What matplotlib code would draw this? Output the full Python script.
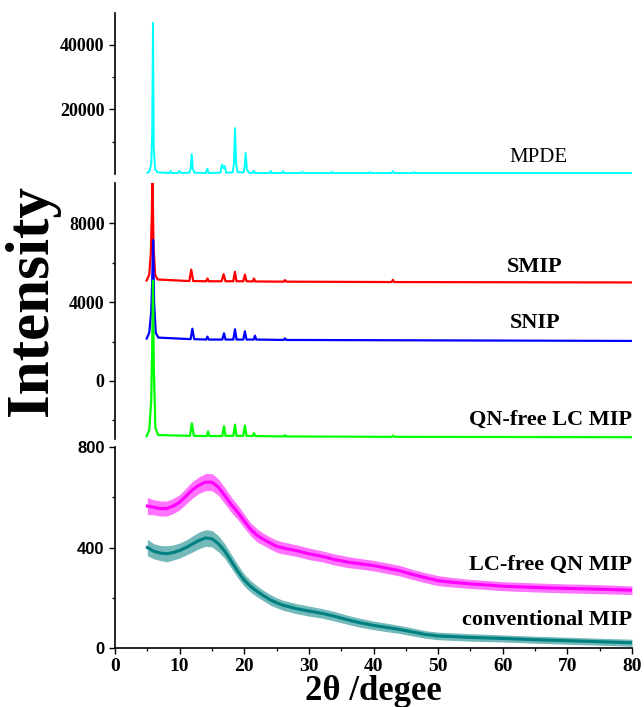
import matplotlib
matplotlib.use("Agg")
import matplotlib.pyplot as plt
from matplotlib.ticker import FixedLocator

# ---------------- data ----------------
# MPDE (top panel)
mpde_x = [5.0, 5.3, 5.6, 5.75, 5.88, 6.0, 6.2, 6.6,
          8.4, 8.6, 8.8, 9.7, 9.95, 10.2,
          11.5, 11.7, 11.87, 12.05, 12.3,
          14.05, 14.28, 14.5,
          16.3, 16.55, 16.75, 16.95, 17.2,
          18.2, 18.4, 18.57, 18.75, 19.0,
          19.9, 20.05, 20.22, 20.4, 20.7,
          21.3, 21.5, 21.7, 23.9, 24.1, 24.3, 25.8, 26.0, 26.2,
          28.8, 29.0, 29.2, 33.3, 33.5, 33.7, 39.3, 39.5, 39.7,
          42.8, 43.0, 43.2, 46.0, 46.2, 46.4, 80.0]
mpde_y = [400, 700, 3000, 12000, 46800, 8000, 1500, 500,
          300, 900, 300, 300, 900, 300,
          400, 1500, 6100, 1500, 400,
          300, 1650, 300,
          400, 2900, 1800, 2500, 400,
          500, 3000, 14200, 3000, 500,
          500, 2000, 6500, 1500, 400,
          300, 1000, 300, 300, 900, 300, 300, 800, 300,
          300, 600, 300, 300, 600, 300, 300, 550, 300,
          300, 800, 300, 300, 550, 300, 300]

# SMIP (red)
smip_x = [4.9, 5.3, 5.55, 5.7, 5.8, 5.95, 6.2, 6.6,
          11.5, 11.8, 12.1, 14.1, 14.3, 14.5, 16.5, 16.8, 17.1,
          18.3, 18.55, 18.8, 19.85, 20.1, 20.35, 21.3, 21.5, 21.7,
          26.1, 26.3, 26.5, 42.8, 43.0, 43.2, 80.0]
smip_y = [5100, 5400, 6500, 8500, 10500, 7000, 5400, 5150,
          5070, 5650, 5070, 5060, 5200, 5060, 5060, 5420, 5060,
          5060, 5540, 5060, 5060, 5400, 5060, 5050, 5200, 5050,
          5040, 5120, 5040, 5020, 5130, 5020, 5000]

# SNIP (blue)
snip_x = [4.9, 5.3, 5.6, 5.75, 5.9, 6.05, 6.3, 6.7,
          11.7, 11.97, 12.25, 14.1, 14.3, 14.5, 16.6, 16.87, 17.1,
          18.3, 18.57, 18.8, 19.85, 20.1, 20.35, 21.45, 21.66, 21.85,
          26.1, 26.3, 26.5, 80.0]
snip_y = [2150, 2450, 3500, 5000, 7150, 4000, 2450, 2200,
          2120, 2650, 2120, 2100, 2250, 2100, 2100, 2420, 2100,
          2100, 2620, 2100, 2100, 2520, 2100, 2100, 2300, 2100,
          2080, 2160, 2080, 2030]

# QN-free LC MIP (green)
qn_x = [4.9, 5.3, 5.6, 5.75, 5.88, 6.0, 6.25, 6.7,
        11.6, 11.9, 12.2, 14.2, 14.4, 14.6, 16.6, 16.87, 17.1,
        18.3, 18.57, 18.8, 19.85, 20.1, 20.35, 21.3, 21.5, 21.7,
        26.1, 26.3, 26.5, 42.8, 43.0, 43.2, 80.0]
qn_y = [-2800, -2500, -1000, 1500, 5100, 800, -2400, -2750,
        -2790, -2150, -2790, -2800, -2560, -2800, -2800, -2300, -2790,
        -2790, -2220, -2790, -2790, -2270, -2790, -2800, -2650, -2800,
        -2820, -2760, -2820, -2840, -2780, -2840, -2860]

# LC-free QN MIP (magenta) : mean level and noise half-width
lcf_x = [5, 6, 7, 8, 9, 10, 11, 12, 13, 14, 15, 16, 17, 18, 19, 20, 21, 22,
         23, 24, 25, 26, 28, 30, 32, 34, 36, 38, 40, 42, 44, 46, 48, 50, 52,
         55, 58, 60, 65, 70, 75, 80]
lcf_y = [565, 560, 555, 555, 565, 580, 605, 630, 648, 660, 660, 640, 606,
         570, 540, 505, 472, 448, 432, 418, 405, 398, 388, 375, 365, 352,
         342, 335, 328, 318, 308, 293, 280, 268, 262, 255, 250, 246, 241,
         237, 234, 230]
lcf_n = [34, 30, 30, 30, 30, 30, 32, 33, 33, 34, 34, 33, 32, 30, 29, 27, 26,
         26, 24, 24, 24, 24, 23, 23, 22, 22, 22, 21, 21, 21, 21, 20, 20, 20,
         19, 18, 18, 18, 18, 18, 18, 17]

# conventional MIP (teal)
conv_x = [5, 6, 7, 8, 9, 10, 11, 12, 13, 14, 15, 16, 17, 18, 19, 20, 21, 22,
          23, 24, 25, 26, 28, 30, 32, 34, 36, 38, 40, 42, 44, 46, 48, 50, 55,
          60, 65, 70, 75, 80]
conv_y = [400, 385, 378, 375, 380, 388, 400, 414, 428, 438, 435, 415, 385,
          345, 305, 270, 245, 225, 208, 192, 180, 170, 157, 147, 138, 126,
          112, 100, 90, 82, 74, 64, 54, 48, 42, 38, 33, 29, 25, 21]
conv_n = [33, 30, 30, 32, 30, 30, 30, 32, 33, 33, 33, 32, 29, 27, 26, 24, 23,
          22, 21, 21, 20, 20, 20, 20, 19, 19, 18, 18, 17, 17, 16, 16, 15, 15,
          15, 14, 14, 14, 14, 14]

labels = ["MPDE", "SMIP", "SNIP", "QN-free LC MIP", "LC-free QN MIP",
          "conventional MIP"]
colors = ["#00FFFF", "#FF0000", "#0000FF", "#00FF00", "#FF00FF", "#008080"]

# ---------------- figure ----------------
SERIF = "Liberation Serif"
SANS = "Liberation Sans"
W, H = 644, 707
fig = plt.figure(figsize=(W / 100, H / 100), dpi=100)

def rect(top_px, bot_px, left_px=115, right_px=632):
    return [left_px / W, 1 - bot_px / H, (right_px - left_px) / W,
            (bot_px - top_px) / H]

ax_top = fig.add_axes(rect(12.5, 174))
ax_mid = fig.add_axes(rect(183, 439))
ax_bot = fig.add_axes(rect(447, 648))

for ax in (ax_top, ax_mid, ax_bot):
    ax.set_xlim(0, 80)
    ax.spines["top"].set_visible(False)
    ax.spines["right"].set_visible(False)
    ax.spines["left"].set_linewidth(1.2)
    ax.spines["bottom"].set_linewidth(1.2)
    ax.tick_params(axis="y", which="major", direction="out", length=4,
                   width=1.0)
    ax.tick_params(axis="y", which="minor", direction="out", length=2.5,
                   width=0.9)
    ax.patch.set_alpha(0)

for ax in (ax_top, ax_mid):
    ax.spines["bottom"].set_visible(False)
    ax.tick_params(axis="x", which="both", bottom=False, labelbottom=False)

# top panel
ax_top.plot(mpde_x, mpde_y, color=colors[0], lw=1.4)
ax_top.set_ylim(0, 50000)
ax_top.yaxis.set_major_locator(FixedLocator([20000, 40000]))
ax_top.yaxis.set_minor_locator(FixedLocator([10000, 30000]))
ax_top.text(70, 5000, labels[0], ha="right", va="center",
            fontfamily=SERIF, fontsize=15)

# middle panel
ax_mid.plot(smip_x, smip_y, color=colors[1], lw=1.6)
ax_mid.plot(snip_x, snip_y, color=colors[2], lw=1.6)
ax_mid.plot(qn_x, qn_y, color=colors[3], lw=1.6)
ax_mid.set_ylim(-2950, 10050)
ax_mid.yaxis.set_major_locator(FixedLocator([0, 4000, 8000]))
ax_mid.yaxis.set_minor_locator(FixedLocator([-2000, 2000, 6000]))
ax_mid.text(69.2, 5800, labels[1], ha="right", va="center",
            fontfamily=SERIF, fontsize=16, fontweight="bold")
ax_mid.text(68.9, 2950, labels[2], ha="right", va="center",
            fontfamily=SERIF, fontsize=16, fontweight="bold")
ax_mid.text(80, -1980, labels[3], ha="right", va="center",
            fontfamily=SERIF, fontsize=16, fontweight="bold")

# bottom panel
lo_m = [m - n for m, n in zip(lcf_y, lcf_n)]
hi_m = [m + n for m, n in zip(lcf_y, lcf_n)]
lo_c = [m - n for m, n in zip(conv_y, conv_n)]
hi_c = [m + n for m, n in zip(conv_y, conv_n)]
ax_bot.fill_between(lcf_x, lo_m, hi_m, color=colors[4], alpha=0.55, lw=0)
ax_bot.plot(lcf_x, lcf_y, color=colors[4], lw=2.2)
ax_bot.fill_between(conv_x, lo_c, hi_c, color=colors[5], alpha=0.55, lw=0)
ax_bot.plot(conv_x, conv_y, color=colors[5], lw=2.2)
ax_bot.set_ylim(0, 800)
ax_bot.yaxis.set_major_locator(FixedLocator([0, 400, 800]))
ax_bot.yaxis.set_minor_locator(FixedLocator([200, 600]))
ax_bot.xaxis.set_major_locator(FixedLocator(list(range(0, 81, 10))))
ax_bot.xaxis.set_minor_locator(FixedLocator(list(range(5, 80, 10))))
ax_bot.tick_params(axis="x", which="major", direction="out", length=4,
                   width=1.0)
ax_bot.tick_params(axis="x", which="minor", direction="out", length=2.5,
                   width=0.9)
ax_bot.text(80, 330, labels[4], ha="right", va="center",
            fontfamily=SERIF, fontsize=16, fontweight="bold")
ax_bot.text(80, 112, labels[5], ha="right", va="center",
            fontfamily=SERIF, fontsize=16, fontweight="bold")

# tick label fonts
for ax in (ax_top, ax_mid):
    for t in ax.get_yticklabels():
        t.set_fontfamily(SERIF)
        t.set_fontweight("bold")
        t.set_fontsize(13)
for t in ax_bot.get_yticklabels():
    t.set_fontfamily(SANS)
    t.set_fontweight("bold")
    t.set_fontsize(12)
for t in ax_bot.get_xticklabels():
    t.set_fontfamily(SERIF)
    t.set_fontweight("bold")
    t.set_fontsize(14)

ax_bot.set_xlabel("2θ /degee", fontfamily=SERIF, fontweight="bold",
                  fontsize=25, labelpad=0)

fig.text(32 / W, 1 - 300 / H, "Intensity", rotation=90, ha="center",
         va="center", fontfamily=SERIF, fontweight="bold", fontsize=44)

fig.savefig("out.png", dpi=100)
